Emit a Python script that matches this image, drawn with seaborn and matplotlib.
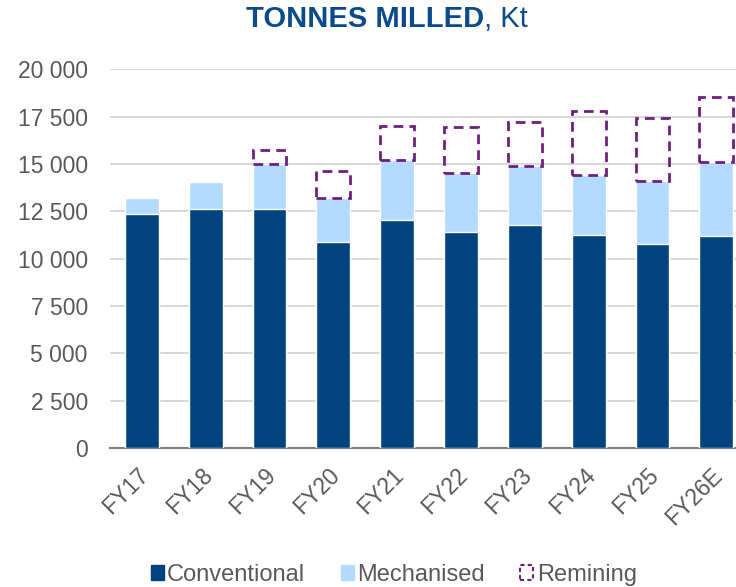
import matplotlib
matplotlib.use("Agg")
import matplotlib.pyplot as plt
import matplotlib.transforms as mtransforms
import seaborn as sns
import numpy as np
import pandas as pd
from matplotlib.patches import Patch
from matplotlib.ticker import FuncFormatter

years = ["FY17", "FY18", "FY19", "FY20", "FY21", "FY22", "FY23", "FY24", "FY25", "FY26E"]
conventional = [12360, 12610, 12610, 10880, 12040, 11390, 11800, 11250, 10780, 11220]
mechanised = [860, 1440, 2380, 2340, 3170, 3150, 3100, 3170, 3340, 3890]
remining = [0, 0, 730, 1430, 1780, 2420, 2340, 3400, 3300, 3420]
yticks = [0, 2500, 5000, 7500, 10000, 12500, 15000, 17500, 20000]

C_CONV = "#00437F"
C_MECH = "#B3DAFF"
C_REM = "#6E1F80"
GREY = "#595959"

sns.set_theme(style="white")
plt.rcParams["font.family"] = ["Liberation Sans", "DejaVu Sans"]

df = pd.DataFrame({"year": years, "conv": conventional, "mech": mechanised, "rem": remining})
df["mech_top"] = df["conv"] + df["mech"]

fig = plt.figure(figsize=(7.36, 5.87), dpi=100)
ax = fig.add_axes([0.1495, 0.2368, 0.8505, 0.645])

w = 0.53
sns.barplot(data=df, x="year", y="mech_top", color=C_MECH, saturation=1, width=w, ax=ax, zorder=2)
sns.barplot(data=df, x="year", y="conv", color=C_CONV, saturation=1, width=w, ax=ax, zorder=3)

rem_df = df[df["rem"] > 0]
xs = [years.index(y) for y in rem_df["year"]]
ax.bar(xs, rem_df["rem"], bottom=rem_df["mech_top"], width=w, facecolor="none",
       edgecolor=C_REM, linewidth=2, linestyle=(0, (3.5, 2.2)), zorder=4)

ax.set_xlim(-0.5, 9.31)
ax.set_ylim(0, 20000)
ax.set_yticks(yticks)
ax.yaxis.set_major_formatter(FuncFormatter(lambda v, p: f"{int(v):,}".replace(",", " ")))
ax.grid(axis="y", color="#D9D9D9", linewidth=1.5, zorder=0)
ax.set_axisbelow(True)
for s in ["top", "right", "left"]:
    ax.spines[s].set_visible(False)
ax.spines["bottom"].set_color("#808080")
ax.spines["bottom"].set_linewidth(1.5)
ax.set_xlabel("")
ax.set_ylabel("")
ax.tick_params(axis="y", labelsize=16.5, labelcolor=GREY, length=0, pad=16)
ax.tick_params(axis="x", labelsize=16.5, labelcolor=GREY, length=0, pad=4)
offset = mtransforms.ScaledTranslation(-0.05, -0.10, fig.dpi_scale_trans)
for lbl in ax.get_xticklabels():
    lbl.set_rotation(45)
    lbl.set_ha("right")
    lbl.set_rotation_mode("anchor")
    lbl.set_transform(lbl.get_transform() + offset)

# title
fig.text(0.658, 0.968, "TONNES MILLED", ha="right", va="center", fontsize=21,
         fontweight="bold", color="#0B4A8B")
fig.text(0.658, 0.968, ", Kt", ha="left", va="center", fontsize=21, color="#0B4A8B")

handles = [Patch(facecolor=C_CONV, edgecolor=C_CONV),
           Patch(facecolor=C_MECH, edgecolor=C_MECH),
           Patch(facecolor="none", edgecolor=C_REM, linestyle=(0, (2, 1.5)), linewidth=1.5)]
leg = fig.legend(handles, ["Conventional", "Mechanised", "Remining"], loc="lower center",
                 bbox_to_anchor=(0.535, -0.034), ncol=3, frameon=False, fontsize=17,
                 handlelength=0.55, handleheight=0.6, handletextpad=0.15, columnspacing=1.5)
for t in leg.get_texts():
    t.set_color(GREY)

fig.savefig("out.png", dpi=100)
